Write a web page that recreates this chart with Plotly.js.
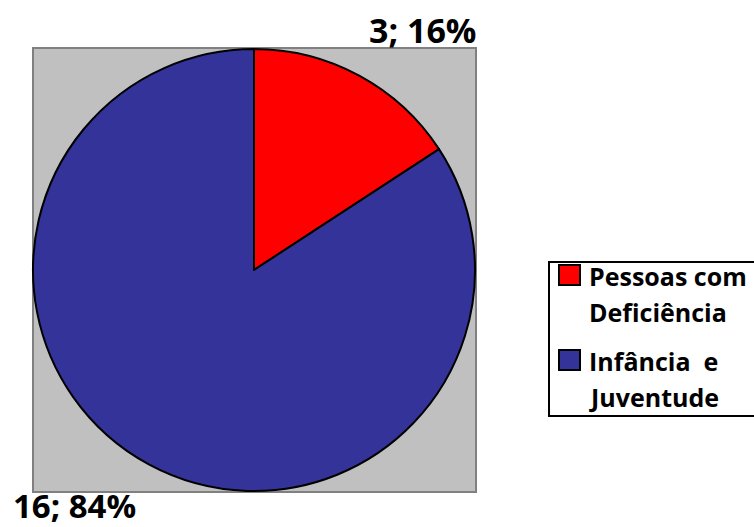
<!DOCTYPE html>
<html><head><meta charset="utf-8">
<script src="https://cdn.plot.ly/plotly-3.0.1.min.js"></script>
<style>body{margin:0;background:#fff}</style>
</head><body>
<div id="chart" style="width:754px;height:527px"></div>
<script>
const categories = ["Pessoas com<br>Deficiência", "Infância  e<br>Juventude"];
const values = [3, 16];
const colors = ["#FF0000", "#333399"];
const W = 754, H = 527;
const px = x => x / W, py = y => 1 - y / H;
const total = values.reduce((a, b) => a + b, 0);
const labelTexts = values.map(v => v + "; " + Math.round(v / total * 100) + "%");
const labelPos = [[422, 30], [74, 505]];
const FONT = "'Open Sans', sans-serif";
const LEGSIZE = 25;

const trace = {
  type: "pie",
  labels: categories,
  values: values,
  sort: false,
  direction: "clockwise",
  rotation: 0,
  textinfo: "none",
  hoverinfo: "label+value+percent",
  showlegend: false,
  marker: {colors: colors, line: {color: "#000000", width: 2}},
  domain: {x: [px(33), px(475)], y: [py(491), py(49)]}
};

const shapes = [{
  type: "rect", xref: "paper", yref: "paper",
  x0: px(33), x1: px(476), y0: py(492), y1: py(48),
  fillcolor: "#C0C0C0", line: {color: "#808080", width: 2}, layer: "below"
}, {
  type: "rect", xref: "paper", yref: "paper",
  x0: px(549), x1: px(770), y0: py(416), y1: py(262),
  fillcolor: "#FFFFFF", line: {color: "#000000", width: 2}, layer: "below"
}];
const annotations = labelTexts.map((t, i) => ({
  text: "<b>" + t + "</b>", xref: "paper", yref: "paper",
  x: px(labelPos[i][0]), y: py(labelPos[i][1]),
  xanchor: "center", yanchor: "middle", showarrow: false,
  font: {size: i === 0 ? 34 : 33, family: FONT, color: "#000"}
}));
const itemTop = [264, 349];
categories.forEach((c, i) => {
  shapes.push({
    type: "rect", xref: "paper", yref: "paper",
    x0: px(559), x1: px(580), y0: py(itemTop[i] + 21), y1: py(itemTop[i] + 1),
    fillcolor: colors[i], line: {color: "#000000", width: 2}
  });
  c.split("<br>").forEach((line, j) => {
    const baseline = itemTop[i] + 20 + j * 36;
    annotations.push({
      text: "<b>" + line + "</b>", xref: "paper", yref: "paper",
      x: px(587), y: py(baseline - 8),
      xanchor: "left", yanchor: "middle", showarrow: false,
      font: {size: LEGSIZE, family: FONT, color: "#000"}
    });
  });
});

const layout = {
  width: W, height: H,
  margin: {l: 0, r: 0, t: 0, b: 0},
  paper_bgcolor: "#FFFFFF",
  font: {family: FONT, color: "#000"},
  showlegend: false,
  shapes: shapes,
  annotations: annotations
};

Plotly.newPlot("chart", [trace], layout, {displayModeBar: false});
</script>
</body></html>
